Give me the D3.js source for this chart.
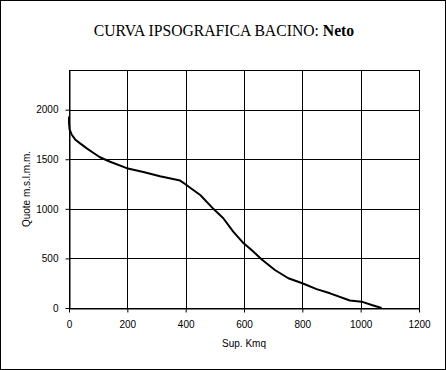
<!DOCTYPE html>
<html lang="it">
<head>
	<meta charset="UTF-8">
	<title>Curva ipsografica</title>
	<script src="https://cdn.jsdelivr.net/npm/d3@7"></script>
	<style>
		body { margin: 0; background: #fff; }
	</style>
</head>
<body>
	<div id="container"></div>
	<script>
		var width = 446;
		var height = 370;

		// superficie cumulata (Kmq) e quota (m s.l.m.m.)
		var sup = [0, 0, 2, 9, 21, 38, 61, 83, 106, 141, 198, 255, 312, 381, 398, 426, 450, 495, 529, 563, 598, 626, 661, 706, 752, 800, 849, 895, 963, 1003, 1038, 1072];
		var quota = [1930, 1870, 1800, 1750, 1700, 1660, 1610, 1565, 1520, 1475, 1410, 1372, 1328, 1285, 1250, 1190, 1140, 1000, 905, 770, 655, 585, 490, 383, 300, 250, 190, 148, 75, 64, 30, 0];

		var xTicks = [0, 200, 400, 600, 800, 1000, 1200];
		var yTicks = [0, 500, 1000, 1500, 2000];

		var margin = {left: 69, right: 27, top: 70, bottom: 62};

		var svg = d3.select("#container").append("svg")
				.attr("width", width)
				.attr("height", height)
				.style("display", "block");

		// cornice esterna
		svg.append("rect")
			.attr("x", 0.5).attr("y", 0.5)
			.attr("width", width - 1).attr("height", height - 1)
			.attr("fill", "#fff")
			.attr("stroke", "#000");

		var x = d3.scaleLinear()
				.domain([0, 1200])
				.range([margin.left, width - margin.right]);
		var y = d3.scaleLinear()
				.domain([0, 2400])
				.range([height - margin.bottom, margin.top]);

		// griglia
		svg.append("g").selectAll("line").data(xTicks.slice(1, -1))
			.enter().append("line")
				.attr("x1", d => Math.round(x(d)) + 0.5)
				.attr("x2", d => Math.round(x(d)) + 0.5)
				.attr("y1", y(2400))
				.attr("y2", y(0))
				.attr("stroke", "#000");
		svg.append("g").selectAll("line").data(yTicks.slice(1))
			.enter().append("line")
				.attr("x1", x(0))
				.attr("x2", x(1200))
				.attr("y1", d => Math.round(y(d)) + 0.5)
				.attr("y2", d => Math.round(y(d)) + 0.5)
				.attr("stroke", "#000");

		svg.append("rect")
			.attr("x", x(0) + 0.5).attr("y", y(2400) + 0.5)
			.attr("width", x(1200) - x(0)).attr("height", y(0) - y(2400))
			.attr("fill", "none")
			.attr("stroke", "#000");

		// assi
		var fmt = d3.format("d");
		var xAxis = svg.append("g")
				.attr("transform", "translate(0," + (Math.round(y(0)) + 0.5) + ")")
				.call(d3.axisBottom(x).tickValues(xTicks).tickFormat(fmt).tickSize(4).tickPadding(8).tickSizeOuter(0));
		var yAxis = svg.append("g")
				.attr("transform", "translate(" + (Math.round(x(0)) + 0.5) + ",0)")
				.call(d3.axisLeft(y).tickValues(yTicks).tickFormat(fmt).tickSize(4).tickPadding(7).tickSizeOuter(0));

		[xAxis, yAxis].forEach(function(g) {
			g.select(".domain").attr("stroke", "#000");
			g.selectAll(".tick line").attr("stroke", "#000");
			g.selectAll(".tick text")
				.attr("fill", "#000")
				.style("font-family", "'Liberation Sans', Arial, sans-serif")
				.style("font-size", "10px");
		});

		// curva
		var line = d3.line()
				.x(d => x(d[0]))
				.y(d => y(d[1]));
		svg.append("path")
			.datum(d3.zip(sup, quota))
			.attr("d", line)
			.attr("fill", "none")
			.attr("stroke", "#000")
			.attr("stroke-width", 2)
			.attr("stroke-linejoin", "round");

		// titoli
		var title = svg.append("text")
				.attr("x", 224)
				.attr("y", 36)
				.attr("text-anchor", "middle")
				.attr("fill", "#000")
				.style("font-family", "'Liberation Serif', 'Times New Roman', serif")
				.style("font-size", "15.7px");
		title.append("tspan").text("CURVA IPSOGRAFICA BACINO: ");
		title.append("tspan").attr("font-weight", "bold").text("Neto");

		svg.append("text")
			.attr("x", x(600))
			.attr("y", 347)
			.attr("text-anchor", "middle")
			.attr("fill", "#000")
			.style("font-family", "'Liberation Sans', Arial, sans-serif")
			.style("font-size", "10px")
			.text("Sup. Kmq");

		svg.append("text")
			.attr("transform", "translate(30," + y(1200) + ") rotate(-90)")
			.attr("text-anchor", "middle")
			.attr("fill", "#000")
			.style("font-family", "'Liberation Sans', Arial, sans-serif")
			.style("font-size", "10px")
			.text("Quote m.s.l.m.m.");
	</script>
</body>
</html>
